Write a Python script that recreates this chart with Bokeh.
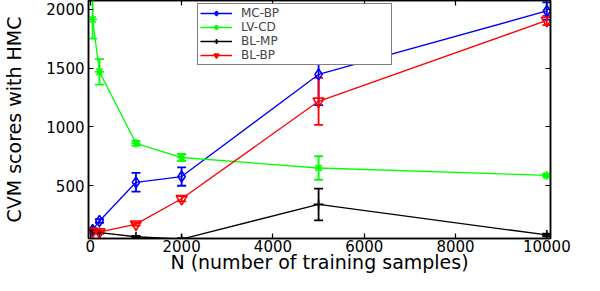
from bokeh.plotting import figure
from bokeh.models import (Range1d, LinearAxis, FixedTicker, Whisker, ColumnDataSource,
                          Legend, LegendItem, TeeHead)
from bokeh.embed import file_html
from bokeh.resources import INLINE

# ---- data ----
n_samples = [50, 200, 1000, 2000, 5000, 10000]

mc_bp = [123, 199, 528, 577, 1446, 1986]
mc_bp_err = [12, 15, 80, 78, 262, 73]

lv_cd = [1913, 1468, 860, 739, 650, 587]
lv_cd_err = [162, 108, 20, 30, 100, 12]

bl_mp = [118, 100, 65, 45, 340, 80]
bl_mp_err = [10, 8, 8, 8, 135, 12]

bl_bp = [110, 105, 172, 388, 1217, 1905]
bl_bp_err = [10, 10, 12, 22, 200, 40]

series_names = ["MC-BP", "LV-CD", "BL-MP", "BL-BP"]
x_ticks = [0, 2000, 4000, 6000, 8000, 10000]
y_ticks = [500, 1000, 1500, 2000]

FONT = "DejaVu Sans"

p = figure(width=584, height=275,
           x_range=Range1d(-40, 10080), y_range=Range1d(50, 2075),
           output_backend="svg", toolbar_location=None,
           min_border_left=81, min_border_right=34, min_border_top=0,
           min_border_bottom=0)
p.xgrid.visible = False
p.ygrid.visible = False
p.outline_line_color = "black"
p.outline_line_width = 1.5
p.background_fill_color = "white"
p.border_fill_color = "white"

for ax in (p.xaxis[0], p.yaxis[0]):
    ax.major_tick_in = 5
    ax.major_tick_out = 0
    ax.minor_tick_in = 0
    ax.minor_tick_out = 0
    ax.axis_line_width = 1.5
    ax.major_tick_line_width = 1.2
    ax.major_label_text_font = FONT
    ax.major_label_text_font_size = "15px"
    ax.major_label_text_color = "black"
    ax.axis_label_text_font = FONT
    ax.axis_label_text_font_style = "normal"
    ax.axis_label_text_color = "black"

p.xaxis.ticker = FixedTicker(ticks=x_ticks)
p.yaxis.ticker = FixedTicker(ticks=y_ticks)
p.xaxis.axis_label = "N (number of training samples)"
p.yaxis.axis_label = "CVM scores with HMC"
p.xaxis.axis_label_text_font_size = "19px"
p.yaxis.axis_label_text_font_size = "19px"
p.xaxis.major_label_standoff = 1
p.xaxis.axis_label_standoff = -4
p.yaxis.major_label_standoff = 4
p.yaxis.axis_label_standoff = 18

for loc, tk in (("above", x_ticks), ("right", y_ticks)):
    ax = LinearAxis(ticker=FixedTicker(ticks=tk),
                    major_label_overrides={t: "" for t in tk},
                    major_label_text_font_size="1px",
                    major_label_standoff=0, major_tick_in=5, major_tick_out=0,
                    minor_tick_in=0, minor_tick_out=0, axis_line_width=1.5,
                    major_tick_line_width=1.2)
    p.add_layout(ax, loc)

colors = ["#0000ff", "#00ff00", "#000000", "#ff0000"]
markers = ["diamond", "asterisk", "cross", "inverted_triangle"]
msizes = [11, 9, 10, 11]
values = [mc_bp, lv_cd, bl_mp, bl_bp]
errors = [mc_bp_err, lv_cd_err, bl_mp_err, bl_bp_err]

items = []
for name, col, mk, ms, vals, errs in zip(series_names, colors, markers, msizes, values, errors):
    src = ColumnDataSource(dict(
        x=n_samples, y=vals,
        upper=[v + e for v, e in zip(vals, errs)],
        lower=[v - e for v, e in zip(vals, errs)]))
    w = Whisker(source=src, base="x", upper="upper", lower="lower",
                line_color=col, line_width=1.8,
                upper_head=TeeHead(size=9, line_color=col, line_width=1.8),
                lower_head=TeeHead(size=9, line_color=col, line_width=1.8))
    p.add_layout(w)
    ln = p.line("x", "y", source=src, line_color=col, line_width=1.3)
    sc = p.scatter("x", "y", source=src, marker=mk, size=ms,
                   line_color=col, fill_color=None, line_width=1.6)
    items.append(LegendItem(label=name, renderers=[ln, sc]))

legend = Legend(items=items, location=(109, 173),
                border_line_color="black", border_line_width=1,
                background_fill_color="white", background_fill_alpha=1.0,
                padding=2, spacing=-1, margin=0,
                label_text_font=FONT, label_text_font_size="12px",
                label_height=12, glyph_height=12, glyph_width=32,
                label_standoff=9, label_width=148)
p.add_layout(legend)

open("out.html", "w").write(file_html(p, INLINE))
